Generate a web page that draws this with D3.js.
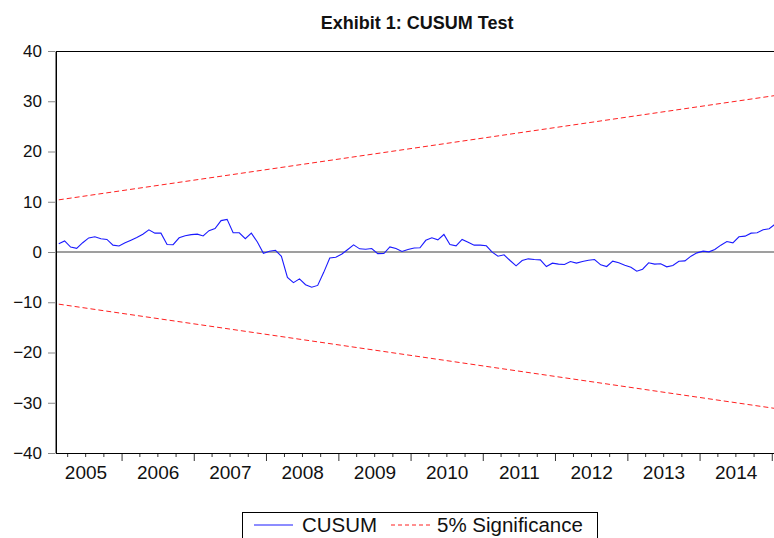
<!DOCTYPE html>
<html>
<head>
<meta charset="utf-8">
<script src="https://cdn.jsdelivr.net/npm/d3@7"></script>
<style>
  html, body { margin: 0; padding: 0; background: #fff; }
  svg { display: block; font-family: 'Liberation Sans', Arial, sans-serif; }
</style>
</head>
<body>
<div id="chart"></div>
<script>
// monthly sample, Feb 2005 onward
const startMonth = new Date(2005, 1, 1)
const cusum = [
  1.65, 2.2, 0.98, 0.72, 1.85, 2.8, 3.02, 2.65, 2.5, 1.36, 1.2, 1.83,
  2.35, 2.9, 3.55, 4.4, 3.75, 3.75, 1.49, 1.45, 2.82, 3.22, 3.45, 3.55,
  3.2, 4.25, 4.65, 6.25, 6.5, 3.85, 3.82, 2.65, 3.75, 2.0, -0.25, 0.15,
  0.35, -0.85, -5.05, -6.1, -5.34, -6.5, -7.0, -6.65, -4.05, -1.2, -1.05, -0.4,
  0.5, 1.43, 0.63, 0.56, 0.7, -0.33, -0.3, 1.0, 0.7, 0.1, 0.5, 0.8,
  0.83, 2.33, 2.82, 2.43, 3.49, 1.49, 1.23, 2.49, 1.96, 1.36, 1.36, 1.23,
  -0.04, -0.83, -0.56, -1.69, -2.75, -1.69, -1.36, -1.49, -1.56, -2.89, -2.22, -2.42,
  -2.49, -1.89, -2.22, -1.89, -1.63, -1.5, -2.55, -2.89, -1.83, -2.15, -2.62, -3.02,
  -3.82, -3.42, -2.15, -2.42, -2.35, -2.95, -2.69, -1.83, -1.76, -0.83, -0.17, 0.17,
  0.03, 0.5, 1.36, 2.09, 1.83, 3.03, 3.15, 3.75, 3.82, 4.42, 4.62, 5.6
]
// 5% bands: value at first and last observation
const upperBand = [10.38, 31.14]
const lowerBand = [-10.38, -31.14]
const yTicks = [-40, -30, -20, -10, 0, 10, 20, 30, 40]
const yearLabels = [2005, 2006, 2007, 2008, 2009, 2010, 2011, 2012, 2013, 2014]
const legendItems = ['CUSUM', '5% Significance']

const width = 774
const height = 538
const plotLeft = 56
const plotRight = 778.4
const plotTop = 51
const plotBottom = 453

const months = cusum.map((v, i) => d3.timeMonth.offset(startMonth, i))
const endMonth = d3.timeMonth.offset(startMonth, cusum.length)

const x = d3.scaleTime().domain([startMonth, endMonth]).range([plotLeft, plotRight])
const y = d3.scaleLinear().domain([-40, 40]).range([plotBottom, plotTop])

// observation sits in the middle of its month slot
const mid = d => (x(d) + x(d3.timeMonth.offset(d, 1))) / 2

const svg = d3.select('#chart')
  .append('svg')
  .attr('width', width)
  .attr('height', height)

svg.append('text')
  .attr('x', (plotLeft + plotRight) / 2)
  .attr('y', 29)
  .attr('text-anchor', 'middle')
  .attr('font-size', 18)
  .attr('font-weight', 'bold')
  .attr('fill', '#111')
  .text('Exhibit 1: CUSUM Test')

// y axis
const yAxis = svg.append('g')
  .attr('transform', `translate(${plotLeft - 1},0)`)
  .call(d3.axisLeft(y).tickValues(yTicks).tickSize(7).tickSizeOuter(0).tickPadding(6))
yAxis.select('.domain').attr('stroke', '#888')
yAxis.selectAll('.tick line').attr('stroke', '#888')
yAxis.selectAll('.tick text')
  .attr('font-size', 17)
  .attr('fill', '#111')
  .attr('font-family', "'Liberation Sans', Arial, sans-serif")

// x axis: quarter ticks and year ticks
const xAxis = svg.append('g').attr('class', 'x-axis')
const quarters = d3.timeMonth.every(3).range(startMonth, endMonth)
  .filter(d => d.getMonth() !== 0)
const years = d3.timeYear.range(startMonth, endMonth)

xAxis.selectAll('line.minor')
  .data(quarters)
  .enter()
  .append('line')
  .attr('class', 'minor')
  .attr('x1', d => x(d))
  .attr('x2', d => x(d))
  .attr('y1', plotBottom)
  .attr('y2', plotBottom + 4)
  .attr('stroke', '#333')

xAxis.selectAll('line.major')
  .data(years)
  .enter()
  .append('line')
  .attr('class', 'major')
  .attr('x1', d => x(d))
  .attr('x2', d => x(d))
  .attr('y1', plotBottom)
  .attr('y2', plotBottom + 8)
  .attr('stroke', '#333')

xAxis.selectAll('text')
  .data(yearLabels)
  .enter()
  .append('text')
  .attr('x', d => (x(new Date(d, 0, 1)) + x(new Date(d + 1, 0, 1))) / 2)
  .attr('y', 479)
  .attr('text-anchor', 'middle')
  .attr('font-size', 19)
  .attr('fill', '#111')
  .text(d => d)

// zero line
svg.append('line')
  .attr('x1', plotLeft)
  .attr('x2', plotRight)
  .attr('y1', y(0))
  .attr('y2', y(0))
  .attr('stroke', '#7f7f7f')
  .attr('stroke-width', 1.6)

// significance bands
const firstX = mid(months[0])
const lastX = mid(months[months.length - 1])
;[upperBand, lowerBand].forEach(band => {
  svg.append('line')
    .attr('x1', firstX)
    .attr('x2', lastX)
    .attr('y1', y(band[0]))
    .attr('y2', y(band[1]))
    .attr('stroke', '#ff2020')
    .attr('stroke-width', 1)
    .attr('stroke-dasharray', '5,3')
})

// cusum
const line = d3.line()
  .x((d, i) => mid(months[i]))
  .y(d => y(d))

svg.append('path')
  .datum(cusum)
  .attr('d', line)
  .attr('fill', 'none')
  .attr('stroke', '#1a1aff')
  .attr('stroke-width', 1.1)

// frame
svg.append('rect')
  .attr('x', plotLeft + 0.5)
  .attr('y', plotTop + 0.5)
  .attr('width', plotRight - plotLeft)
  .attr('height', plotBottom - plotTop)
  .attr('fill', 'none')
  .attr('stroke', '#000')
  .attr('stroke-width', 1)

// legend
const legend = svg.append('g')
legend.append('rect')
  .attr('x', 242.5)
  .attr('y', 512.5)
  .attr('width', 355)
  .attr('height', 40)
  .attr('fill', '#fff')
  .attr('stroke', '#000')

legend.append('line')
  .attr('x1', 254).attr('x2', 293)
  .attr('y1', 525).attr('y2', 525)
  .attr('stroke', '#1a1aff')
legend.append('text')
  .attr('x', 302).attr('y', 532)
  .attr('font-size', 20.5)
  .attr('fill', '#111')
  .text(legendItems[0])

legend.append('line')
  .attr('x1', 391).attr('x2', 430)
  .attr('y1', 525).attr('y2', 525)
  .attr('stroke', '#ff2020')
  .attr('stroke-dasharray', '4,3')
legend.append('text')
  .attr('x', 437).attr('y', 532)
  .attr('font-size', 20.5)
  .attr('fill', '#111')
  .text(legendItems[1])
</script>
</body>
</html>
